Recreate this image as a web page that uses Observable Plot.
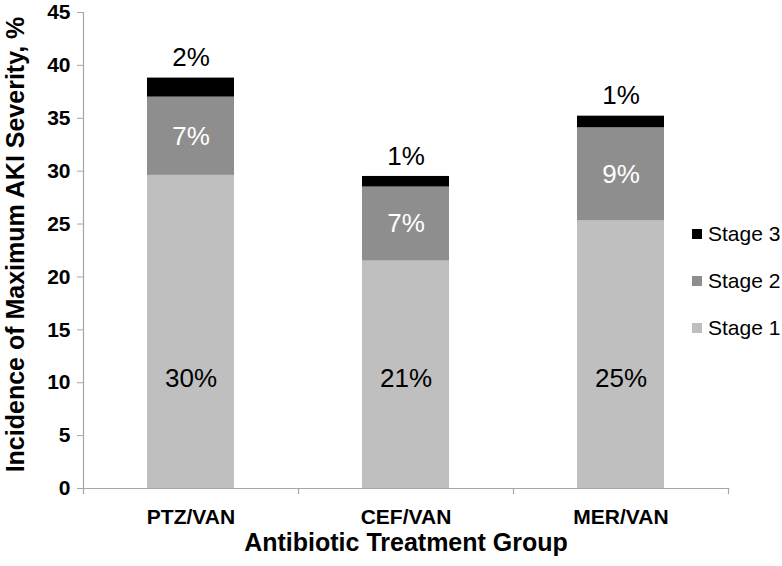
<!DOCTYPE html>
<html>
<head>
<meta charset="utf-8">
<script src="https://cdn.jsdelivr.net/npm/d3@7"></script>
<script src="https://cdn.jsdelivr.net/npm/@observablehq/plot@0.6"></script>
<style>
  html, body { margin: 0; padding: 0; background: #fff; }
  #wrap { position: relative; width: 782px; height: 566px; font-family: "Liberation Sans", Arial, sans-serif; }
  #legend { position: absolute; left: 692px; top: 210px; font-size: 21px; color: #000; }
  .item { display: flex; align-items: center; height: 47px; }
  .sw { width: 10px; height: 10px; margin-right: 6px; }
</style>
</head>
<body>
<div id="wrap"></div>
<script>
const categories = ["PTZ/VAN", "CEF/VAN", "MER/VAN"];
const stages = ["Stage 1", "Stage 2", "Stage 3"];
const stage1 = [29.6, 21.5, 25.3];
const stage2 = [7.4, 7.0, 8.8];
const stage3 = [1.8, 1.0, 1.1];
const label1 = ["30%", "21%", "25%"];
const label2 = ["7%", "7%", "9%"];
const label3 = ["2%", "1%", "1%"];
const yTicks = [0, 5, 10, 15, 20, 25, 30, 35, 40, 45];
const stageColors = ["#bfbfbf", "#8e8e8e", "#000000"];
const xTitle = "Antibiotic Treatment Group";
const yTitle = "Incidence of Maximum AKI Severity, %";

const rows = [];
categories.forEach((c, i) => {
  rows.push({group: c, stage: stages[0], value: stage1[i]});
  rows.push({group: c, stage: stages[1], value: stage2[i]});
  rows.push({group: c, stage: stages[2], value: stage3[i]});
});
const labels = categories.map((c, i) => ({
  group: c,
  l1: label1[i], l2: label2[i], l3: label3[i],
  mid2: stage1[i] + stage2[i] / 2,
  total: stage1[i] + stage2[i] + stage3[i]
}));

const font = "Liberation Sans, Arial, sans-serif";
const axisGray = "#a6a6a6";

const chart = Plot.plot({
  width: 782,
  height: 566,
  marginLeft: 83,
  marginRight: 54,
  marginTop: 12,
  marginBottom: 78,
  style: {fontFamily: font, color: "#000", background: "#fff", overflow: "visible"},
  x: {domain: categories, paddingInner: 0.595, paddingOuter: 0.2975, label: null},
  y: {domain: [0, 45], label: null},
  color: {domain: stages, range: stageColors},
  marks: [
    Plot.barY(rows, {x: "group", y: "value", fill: "stage", order: stages}),
    Plot.frame({anchor: "left", stroke: axisGray, strokeWidth: 1.2}),
    Plot.frame({anchor: "bottom", stroke: axisGray, strokeWidth: 1.2}),
    Plot.axisY({ticks: yTicks, tickSize: 6, tickPadding: 7, stroke: axisGray, fontSize: 21, fontWeight: "bold", label: null}),
    Plot.axisX({tickSize: 0, tickPadding: 21, fontSize: 21, fontWeight: "bold", label: null}),
    Plot.ruleX(categories, {x: d => d, y1: 0, y2: 0, dx: -107.5, insetBottom: -6, stroke: axisGray, strokeWidth: 1.2}),
    Plot.ruleX(categories.slice(-1), {x: d => d, y1: 0, y2: 0, dx: 107.5, insetBottom: -6, stroke: axisGray, strokeWidth: 1.2}),
    Plot.text(labels, {x: "group", text: "l1", frameAnchor: "bottom", dy: -102, fontSize: 26, fill: "#000"}),
    Plot.text(labels, {x: "group", y: "mid2", text: "l2", fontSize: 26, fill: "#fff"}),
    Plot.text(labels, {x: "group", y: "total", text: "l3", dy: -20, fontSize: 26, fill: "#000"}),
    Plot.text([xTitle], {text: d => d, frameAnchor: "bottom", dy: 62, fontSize: 25, fontWeight: "bold", fill: "#000"}),
    Plot.text([yTitle], {text: d => d, frameAnchor: "left", textAnchor: "middle", rotate: -90, dx: -68, dy: -6, fontSize: 25, fontWeight: "bold", fill: "#000"})
  ]
});

const wrap = document.getElementById("wrap");
wrap.appendChild(chart);

const legend = document.createElement("div");
legend.id = "legend";
[2, 1, 0].forEach(i => {
  const item = document.createElement("div");
  item.className = "item";
  const sw = document.createElement("span");
  sw.className = "sw";
  sw.style.background = stageColors[i];
  const t = document.createElement("span");
  t.textContent = stages[i];
  item.appendChild(sw);
  item.appendChild(t);
  legend.appendChild(item);
});
wrap.appendChild(legend);
</script>
</body>
</html>
